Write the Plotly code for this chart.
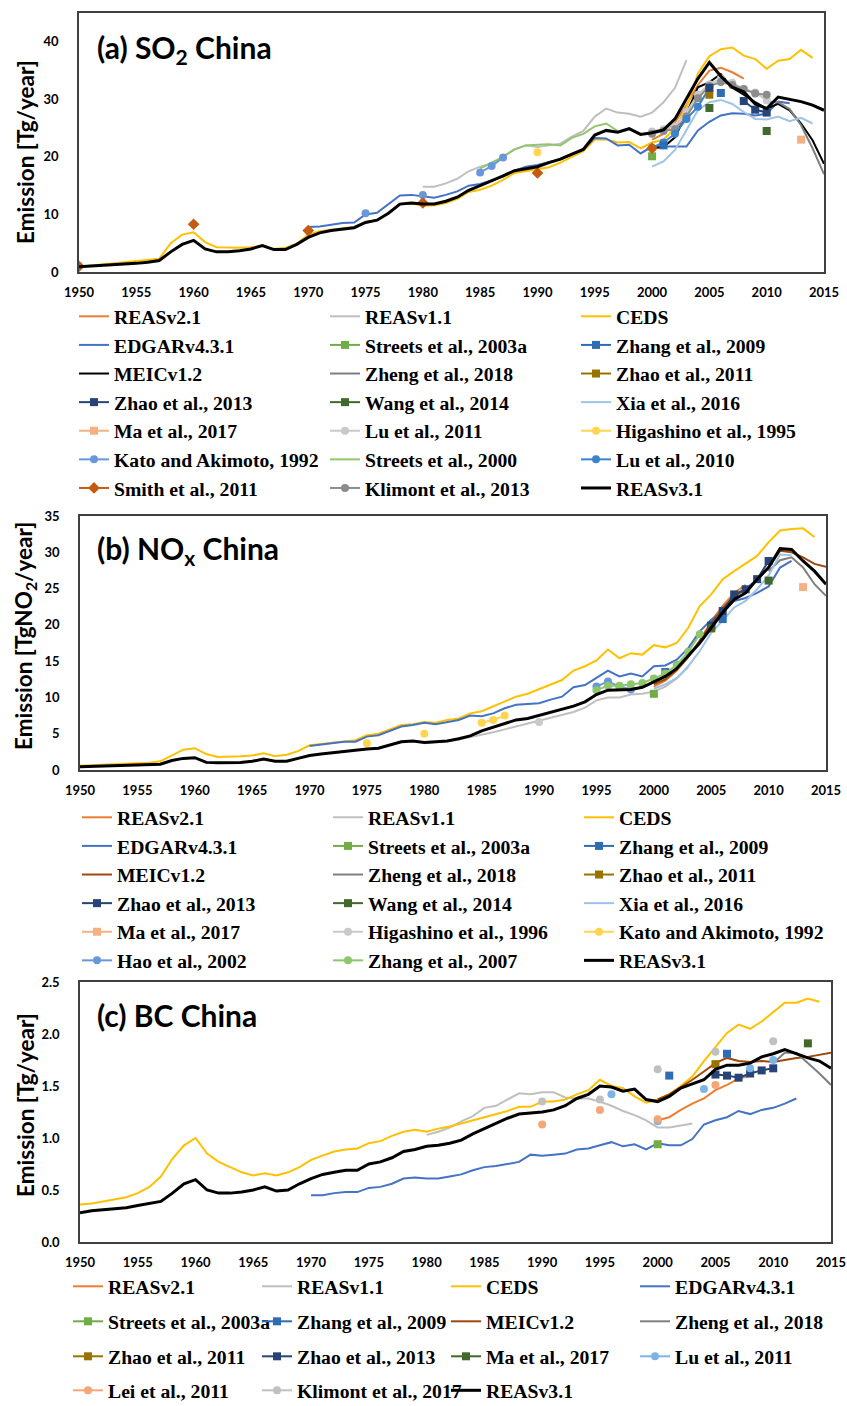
import plotly.graph_objects as go

W, H = 847, 1406

# ======================= Panel (a) SO2 China =======================
A_REAS31_YEARS = list(range(1950, 2016))
A_REAS31 = [0.9, 1.0, 1.1, 1.2, 1.4, 1.5, 1.7, 2.0, 3.5, 4.8,
            5.5, 4.0, 3.5, 3.5, 3.7, 4.0, 4.6, 3.9, 3.9, 4.8,
            6.0, 6.8, 7.2, 7.5, 7.7, 8.6, 9.0, 10.2, 11.8, 12.0,
            11.8, 11.8, 12.3, 13.0, 14.2, 15.0, 15.8, 16.7, 17.6, 18.0,
            18.3, 19.0, 19.6, 20.5, 21.3, 23.8, 24.6, 24.3, 24.9, 23.9,
            24.2, 24.7, 26.6, 30.1, 33.6, 36.4, 34.0, 32.1, 31.3, 29.2,
            28.4, 30.4, 30.0, 29.6, 29.0, 28.1]
A_CEDS_YEARS = list(range(1950, 2015))
A_CEDS = [0.9, 1.1, 1.3, 1.4, 1.6, 1.8, 2.0, 2.3, 5.0, 6.5,
          6.9, 5.2, 4.3, 4.2, 4.2, 4.3, 4.6, 4.0, 4.2, 4.9,
          6.5, 7.1, 7.4, 7.6, 7.8, 8.7, 9.0, 10.2, 11.8, 11.9,
          11.5, 11.6, 12.0, 12.7, 13.9, 14.3, 15.0, 16.0, 17.2, 17.5,
          17.8, 18.2, 19.0, 20.0, 21.0, 23.0, 23.0, 22.5, 22.6, 21.5,
          22.5, 23.0, 25.0, 28.5, 34.5, 37.5, 38.7, 39.0, 37.6, 37.0,
          35.3, 36.7, 37.0, 38.6, 37.2]
A_EDGAR_YEARS = list(range(1970, 2013))
A_EDGAR = [7.8, 7.9, 8.2, 8.5, 8.6, 10.0, 10.3, 11.8, 13.3, 13.4,
           13.2, 12.9, 13.4, 14.0, 15.0, 15.3, 15.9, 16.6, 17.6, 18.3,
           18.6, 19.1, 19.6, 20.4, 21.3, 23.3, 23.2, 22.0, 22.1, 20.6,
           21.8, 21.8, 21.8, 21.8, 24.6, 26.1, 27.2, 27.6, 27.5, 27.2,
           27.5, 29.6, 29.3]
A_REAS11_YEARS = list(range(1980, 2004))
A_REAS11 = [14.8, 14.8, 15.4, 16.2, 17.5, 18.3, 18.8, 20.0, 21.3, 22.0,
            21.7, 22.0, 22.3, 23.5, 24.5, 27.0, 28.4, 27.7, 27.5, 27.0,
            27.7, 29.5, 32.0, 36.8]
A_REAS21_YEARS = list(range(2000, 2009))
A_REAS21 = [23.0, 24.0, 26.0, 29.0, 32.5, 35.0, 35.5, 34.7, 33.6]
A_MEIC_YEARS = list(range(2000, 2016))
A_MEIC = [21.5, 21.7, 23.4, 27.5, 32.1, 33.0, 34.4, 32.0, 30.8, 29.5,
          28.4, 29.2, 28.1, 25.8, 22.9, 18.8]
A_ZHENG_YEARS = list(range(2010, 2016))
A_ZHENG = [29.5, 29.5, 28.3, 25.5, 21.5, 17.0]
A_XIA_YEARS = list(range(2000, 2015))
A_XIA = [18.3, 19.2, 21.2, 24.6, 28.1, 29.5, 29.9, 29.2, 27.8, 26.6,
         26.5, 27.0, 26.2, 26.8, 25.8]
A_STREETS2000_YEARS = list(range(1985, 1998))
A_STREETS2000 = [18.0, 19.0, 20.0, 21.3, 22.0, 22.1, 22.2, 22.0, 23.3, 24.0,
                 25.3, 25.8, 24.5]
A_STREETS2003_YEARS = [2000]
A_STREETS2003 = [20.1]
A_ZHANG2009_YEARS = [2001, 2006]
A_ZHANG2009 = [22.0, 31.1]
A_ZHAO2011_YEARS = [2005]
A_ZHAO2011 = [30.8]
A_ZHAO2013_YEARS = [2005, 2008, 2009, 2010]
A_ZHAO2013 = [32.0, 29.7, 28.2, 27.7]
A_WANG2014_YEARS = [2005, 2010]
A_WANG2014 = [28.5, 24.5]
A_MA2017_YEARS = [2013]
A_MA2017 = [23.0]
A_LU2011_YEARS = list(range(2000, 2011))
A_LU2011 = [24.4, 24.8, 25.3, 27.8, 30.8, 32.6, 33.6, 32.9, 31.8, 31.2, 29.8]
A_HIGASHINO_YEARS = [1990]
A_HIGASHINO = [20.8]
A_KATO_YEARS = [1975, 1980, 1985, 1986, 1987]
A_KATO = [10.2, 13.4, 17.3, 18.4, 19.9]
A_LU2010_YEARS = list(range(2000, 2006))
A_LU2010 = [21.6, 22.5, 24.0, 26.6, 28.7, 32.0]
A_SMITH_YEARS = [1950, 1960, 1970, 1980, 1990, 2000]
A_SMITH = [1.0, 8.3, 7.2, 12.0, 17.2, 21.5]
A_KLIMONT_YEARS = list(range(2000, 2011))
A_KLIMONT = [24.0, 24.5, 24.8, 27.0, 30.2, 32.3, 33.0, 32.5, 31.8, 31.0, 30.8]

# ======================= Panel (b) NOx China =======================
B_REAS31_YEARS = list(range(1950, 2016))
B_REAS31 = [0.45, 0.5, 0.55, 0.6, 0.62, 0.65, 0.7, 0.8, 1.3, 1.6,
            1.7, 1.05, 1.0, 1.0, 1.05, 1.2, 1.5, 1.2, 1.2, 1.6,
            2.0, 2.2, 2.4, 2.55, 2.7, 2.9, 3.0, 3.4, 3.9, 4.0,
            3.8, 3.9, 4.0, 4.3, 4.7, 5.4, 5.9, 6.3, 6.9, 7.1,
            7.5, 7.9, 8.3, 8.8, 9.4, 10.4, 11.0, 11.0, 11.1, 11.4,
            12.2, 12.9, 14.0, 15.7, 17.5, 19.6, 21.7, 23.5, 24.4, 26.3,
            27.9, 30.5, 30.4, 28.8, 27.4, 25.6]
B_CEDS_YEARS = list(range(1950, 2015))
B_CEDS = [0.6, 0.65, 0.7, 0.75, 0.8, 0.9, 1.0, 1.2, 2.0, 2.8,
          3.0, 2.2, 1.8, 1.8, 1.9, 2.0, 2.3, 1.9, 2.1, 2.6,
          3.4, 3.6, 3.8, 4.0, 4.1, 4.8, 5.0, 5.6, 6.2, 6.3,
          6.6, 6.5, 6.9, 7.1, 7.8, 8.1, 8.8, 9.4, 10.1, 10.5,
          11.1, 11.7, 12.4, 13.7, 14.3, 15.1, 16.6, 15.4, 16.1, 15.9,
          17.2, 16.9, 17.5, 19.6, 22.6, 24.2, 26.3, 27.4, 28.5, 29.5,
          31.4, 33.0, 33.2, 33.3, 32.1]
B_EDGAR_YEARS = list(range(1970, 2013))
B_EDGAR = [3.3, 3.5, 3.7, 3.9, 3.9, 4.6, 4.8, 5.4, 6.0, 6.2,
           6.5, 6.3, 6.6, 6.9, 7.5, 7.4, 7.8, 8.5, 9.0, 9.1,
           9.2, 9.7, 10.1, 11.4, 11.7, 12.7, 13.7, 12.9, 13.3, 12.9,
           14.3, 14.4, 15.2, 16.8, 19.1, 20.7, 21.9, 23.3, 23.7, 24.4,
           25.3, 27.9, 28.8]
B_REAS11_YEARS = list(range(1980, 2004))
B_REAS11 = [3.7, 3.8, 4.0, 4.2, 4.5, 4.9, 5.2, 5.6, 6.0, 6.3,
            6.7, 7.1, 7.5, 8.0, 8.6, 9.6, 10.0, 10.0, 10.4, 10.5,
            10.8, 11.5, 12.6, 14.2]
B_REAS21_YEARS = list(range(2000, 2009))
B_REAS21 = [11.5, 12.3, 13.7, 15.6, 17.8, 20.5, 22.6, 24.4, 25.5]
B_MEIC_YEARS = list(range(2000, 2016))
B_MEIC = [11.8, 12.5, 13.8, 15.6, 17.8, 20.2, 22.3, 23.9, 24.9, 26.1,
          28.0, 30.2, 30.0, 29.3, 28.4, 28.0]
B_ZHENG_YEARS = list(range(2010, 2016))
B_ZHENG = [27.4, 28.9, 29.3, 27.9, 25.6, 24.0]
B_XIA_YEARS = list(range(2000, 2013))
B_XIA = [11.2, 11.8, 12.7, 14.3, 16.4, 18.9, 20.6, 22.4, 23.3, 24.9,
         26.8, 29.7, 29.6]
B_STREETS2003_YEARS = [2000]
B_STREETS2003 = [10.5]
B_ZHANG2009_YEARS = [2001, 2006]
B_ZHANG2009 = [13.5, 20.8]
B_ZHAO2011_YEARS = [2005]
B_ZHAO2011 = [19.5]
B_ZHAO2013_YEARS = list(range(2005, 2011))
B_ZHAO2013 = [19.9, 21.9, 24.2, 24.9, 26.3, 28.8]
B_WANG2014_YEARS = [2005, 2010]
B_WANG2014 = [19.6, 26.1]
B_MA2017_YEARS = [2013]
B_MA2017 = [25.2]
B_HIGASHINO_YEARS = [1990]
B_HIGASHINO = [6.6]
B_KATO_YEARS = [1975, 1980, 1985, 1986, 1987]
B_KATO = [3.7, 5.0, 6.5, 6.9, 7.5]
B_HAO_YEARS = [1995, 1996, 1997, 1998]
B_HAO = [11.5, 12.2, 11.5, 11.1]
B_ZHANG2007_YEARS = list(range(1995, 2005))
B_ZHANG2007 = [11.0, 11.6, 11.6, 11.8, 12.0, 12.6, 13.3, 14.5, 16.3, 18.7]

# ======================= Panel (c) BC China =======================
C_REAS31_YEARS = list(range(1950, 2016))
C_REAS31 = [0.28, 0.30, 0.31, 0.32, 0.33, 0.35, 0.37, 0.39, 0.47, 0.56,
            0.60, 0.50, 0.47, 0.47, 0.48, 0.50, 0.53, 0.49, 0.50, 0.56,
            0.61, 0.65, 0.67, 0.69, 0.69, 0.75, 0.77, 0.81, 0.87, 0.89,
            0.92, 0.93, 0.95, 0.98, 1.04, 1.09, 1.14, 1.19, 1.23, 1.24,
            1.25, 1.27, 1.31, 1.38, 1.42, 1.50, 1.49, 1.45, 1.47, 1.37,
            1.35, 1.40, 1.48, 1.52, 1.56, 1.66, 1.70, 1.70, 1.72, 1.78,
            1.81, 1.85, 1.81, 1.77, 1.74, 1.67]
C_CEDS_YEARS = list(range(1950, 2015))
C_CEDS = [0.36, 0.37, 0.39, 0.41, 0.43, 0.47, 0.53, 0.63, 0.80, 0.93,
          1.00, 0.85, 0.77, 0.72, 0.67, 0.64, 0.66, 0.64, 0.67, 0.72,
          0.79, 0.83, 0.87, 0.89, 0.90, 0.95, 0.97, 1.02, 1.06, 1.08,
          1.06, 1.09, 1.11, 1.14, 1.17, 1.20, 1.23, 1.26, 1.30, 1.30,
          1.35, 1.35, 1.37, 1.42, 1.46, 1.56, 1.50, 1.48, 1.40, 1.34,
          1.37, 1.42, 1.50, 1.59, 1.74, 1.88, 2.01, 2.09, 2.05, 2.12,
          2.21, 2.30, 2.30, 2.34, 2.31]
C_EDGAR_YEARS = list(range(1970, 2013))
C_EDGAR = [0.45, 0.45, 0.47, 0.48, 0.48, 0.52, 0.53, 0.56, 0.61, 0.62,
           0.61, 0.61, 0.63, 0.65, 0.69, 0.72, 0.73, 0.75, 0.77, 0.84,
           0.83, 0.84, 0.85, 0.89, 0.90, 0.93, 0.96, 0.92, 0.94, 0.89,
           0.95, 0.93, 0.93, 0.99, 1.13, 1.17, 1.20, 1.26, 1.23, 1.27,
           1.29, 1.33, 1.38]
C_REAS11_YEARS = list(range(1980, 2004))
C_REAS11 = [1.03, 1.06, 1.10, 1.16, 1.21, 1.29, 1.31, 1.37, 1.43, 1.42,
            1.44, 1.44, 1.39, 1.38, 1.38, 1.35, 1.31, 1.26, 1.22, 1.17,
            1.10, 1.10, 1.12, 1.14]
C_REAS21_YEARS = list(range(2000, 2009))
C_REAS21 = [1.17, 1.20, 1.27, 1.33, 1.38, 1.46, 1.51, 1.57, 1.60]
C_MEIC_YEARS = list(range(2000, 2016))
C_MEIC = [1.37, 1.42, 1.49, 1.56, 1.64, 1.72, 1.77, 1.74, 1.73, 1.74,
          1.73, 1.75, 1.77, 1.78, 1.80, 1.82]
C_ZHENG_YEARS = list(range(2010, 2016))
C_ZHENG = [1.72, 1.82, 1.82, 1.72, 1.62, 1.51]
C_STREETS2003_YEARS = [2000]
C_STREETS2003 = [0.94]
C_ZHANG2009_YEARS = [2001, 2006]
C_ZHANG2009 = [1.60, 1.81]
C_ZHAO2011_YEARS = [2005]
C_ZHAO2011 = [1.71]
C_ZHAO2013_YEARS = list(range(2005, 2011))
C_ZHAO2013 = [1.61, 1.60, 1.58, 1.62, 1.65, 1.67]
C_MA2017_YEARS = [2013]
C_MA2017 = [1.91]
C_LU2011_YEARS = [1996, 2000, 2004, 2008, 2010]
C_LU2011 = [1.42, 1.16, 1.47, 1.67, 1.75]
C_LEI_YEARS = [1990, 1995, 2000, 2005]
C_LEI = [1.13, 1.27, 1.18, 1.51]
C_KLIMONT_YEARS = [1990, 1995, 2000, 2005, 2010]
C_KLIMONT = [1.35, 1.37, 1.66, 1.83, 1.93]

# ------------------------------------------------------------------
COL = dict(reas21='#ED7D31', reas11='#BFBFBF', ceds='#FFC000', edgar='#4472C4',
           streets03='#70AD47', zhang09='#2E6DB4', meic_a='#000000', meic='#9E480E',
           zheng='#7F7F7F', zhao11='#997300', zhao13='#264478', wang14='#43682B',
           xia='#9DC3E6', ma='#F4B183', lu11_a='#C9C9C9', lu11_c='#7EB3E6',
           higa95='#FFD54F', higa96='#C9C9C9', kato_a='#6A96DC', kato_b='#FFD54F',
           streets00='#92C66C', lu10='#3B82CF', smith='#C55A11', klim13='#8C8C8C',
           klim17='#C0C0C0', hao='#6A96DC', zhang07='#8CC76B', lei='#F4A676',
           reas31='#000000')


def with_gaps(years, values):
    xs, ys, prev = [], [], None
    for yr, v in zip(years, values):
        if prev is not None and yr - prev > 1:
            xs.append(None)
            ys.append(None)
        xs.append(yr)
        ys.append(v)
        prev = yr
    return xs, ys


fig = go.Figure()


def add(panel, legend, rank, name, years, values, color, symbol=None, width=2.0, size=8):
    xs, ys = with_gaps(years, values)
    ax = {'a': ('x', 'y'), 'b': ('x2', 'y2'), 'c': ('x3', 'y3')}[panel]
    kw = dict(x=xs, y=ys, name=name, xaxis=ax[0], yaxis=ax[1], legend=legend,
              legendrank=rank, connectgaps=False, hoverinfo='skip',
              line=dict(color=color, width=width))
    if symbol:
        kw['mode'] = 'lines+markers'
        kw['marker'] = dict(symbol=symbol, size=size, color=color, line=dict(width=0))
    else:
        kw['mode'] = 'lines'
    fig.add_trace(go.Scatter(**kw))


# ---- panel a (draw order: lines, markers, REASv3.1) ----
LA = 'legend'
add('a', LA, 1, 'REASv2.1', A_REAS21_YEARS, A_REAS21, COL['reas21'])
add('a', LA, 2, 'REASv1.1', A_REAS11_YEARS, A_REAS11, COL['reas11'])
add('a', LA, 3, 'CEDS', A_CEDS_YEARS, A_CEDS, COL['ceds'])
add('a', LA, 4, 'EDGARv4.3.1', A_EDGAR_YEARS, A_EDGAR, COL['edgar'])
add('a', LA, 7, 'MEICv1.2', A_MEIC_YEARS, A_MEIC, COL['meic_a'])
add('a', LA, 8, 'Zheng et al., 2018', A_ZHENG_YEARS, A_ZHENG, COL['zheng'])
add('a', LA, 12, 'Xia et al., 2016', A_XIA_YEARS, A_XIA, COL['xia'])
add('a', LA, 17, 'Streets et al., 2000', A_STREETS2000_YEARS, A_STREETS2000, COL['streets00'])
add('a', LA, 14, 'Lu et al., 2011', A_LU2011_YEARS, A_LU2011, COL['lu11_a'], 'circle')
add('a', LA, 20, 'Klimont et al., 2013', A_KLIMONT_YEARS, A_KLIMONT, COL['klim13'], 'circle')
add('a', LA, 18, 'Lu et al., 2010', A_LU2010_YEARS, A_LU2010, COL['lu10'], 'circle')
add('a', LA, 5, 'Streets et al., 2003a', A_STREETS2003_YEARS, A_STREETS2003, COL['streets03'], 'square')
add('a', LA, 6, 'Zhang et al., 2009', A_ZHANG2009_YEARS, A_ZHANG2009, COL['zhang09'], 'square')
add('a', LA, 9, 'Zhao et al., 2011', A_ZHAO2011_YEARS, A_ZHAO2011, COL['zhao11'], 'square')
add('a', LA, 10, 'Zhao et al., 2013', A_ZHAO2013_YEARS, A_ZHAO2013, COL['zhao13'], 'square')
add('a', LA, 11, 'Wang et al., 2014', A_WANG2014_YEARS, A_WANG2014, COL['wang14'], 'square')
add('a', LA, 13, 'Ma et al., 2017', A_MA2017_YEARS, A_MA2017, COL['ma'], 'square')
add('a', LA, 15, 'Higashino et al., 1995', A_HIGASHINO_YEARS, A_HIGASHINO, COL['higa95'], 'circle')
add('a', LA, 16, 'Kato and Akimoto, 1992', A_KATO_YEARS, A_KATO, COL['kato_a'], 'circle')
add('a', LA, 19, 'Smith et al., 2011', A_SMITH_YEARS, A_SMITH, COL['smith'], 'diamond', size=9)
add('a', LA, 21, 'REASv3.1', A_REAS31_YEARS, A_REAS31, COL['reas31'], width=3.0)

# ---- panel b ----
LB = 'legend2'
add('b', LB, 1, 'REASv2.1', B_REAS21_YEARS, B_REAS21, COL['reas21'])
add('b', LB, 2, 'REASv1.1', B_REAS11_YEARS, B_REAS11, COL['reas11'])
add('b', LB, 3, 'CEDS', B_CEDS_YEARS, B_CEDS, COL['ceds'])
add('b', LB, 4, 'EDGARv4.3.1', B_EDGAR_YEARS, B_EDGAR, COL['edgar'])
add('b', LB, 7, 'MEICv1.2', B_MEIC_YEARS, B_MEIC, COL['meic'])
add('b', LB, 8, 'Zheng et al., 2018', B_ZHENG_YEARS, B_ZHENG, COL['zheng'])
add('b', LB, 12, 'Xia et al., 2016', B_XIA_YEARS, B_XIA, COL['xia'])
add('b', LB, 5, 'Streets et al., 2003a', B_STREETS2003_YEARS, B_STREETS2003, COL['streets03'], 'square')
add('b', LB, 6, 'Zhang et al., 2009', B_ZHANG2009_YEARS, B_ZHANG2009, COL['zhang09'], 'square')
add('b', LB, 9, 'Zhao et al., 2011', B_ZHAO2011_YEARS, B_ZHAO2011, COL['zhao11'], 'square')
add('b', LB, 10, 'Zhao et al., 2013', B_ZHAO2013_YEARS, B_ZHAO2013, COL['zhao13'], 'square')
add('b', LB, 11, 'Wang et al., 2014', B_WANG2014_YEARS, B_WANG2014, COL['wang14'], 'square')
add('b', LB, 13, 'Ma et al., 2017', B_MA2017_YEARS, B_MA2017, COL['ma'], 'square')
add('b', LB, 14, 'Higashino et al., 1996', B_HIGASHINO_YEARS, B_HIGASHINO, COL['higa96'], 'circle')
add('b', LB, 15, 'Kato and Akimoto, 1992', B_KATO_YEARS, B_KATO, COL['kato_b'], 'circle')
add('b', LB, 16, 'Hao et al., 2002', B_HAO_YEARS, B_HAO, COL['hao'], 'circle')
add('b', LB, 17, 'Zhang et al., 2007', B_ZHANG2007_YEARS, B_ZHANG2007, COL['zhang07'], 'circle')
add('b', LB, 18, 'REASv3.1', B_REAS31_YEARS, B_REAS31, COL['reas31'], width=3.0)

# ---- panel c (one legend per row) ----
add('c', 'legend3', 1, 'REASv2.1', C_REAS21_YEARS, C_REAS21, COL['reas21'])
add('c', 'legend3', 2, 'REASv1.1', C_REAS11_YEARS, C_REAS11, COL['reas11'])
add('c', 'legend3', 3, 'CEDS', C_CEDS_YEARS, C_CEDS, COL['ceds'])
add('c', 'legend3', 4, 'EDGARv4.3.1', C_EDGAR_YEARS, C_EDGAR, COL['edgar'])
add('c', 'legend4', 7, 'MEICv1.2', C_MEIC_YEARS, C_MEIC, COL['meic'])
add('c', 'legend4', 8, 'Zheng et al., 2018', C_ZHENG_YEARS, C_ZHENG, COL['zheng'])
add('c', 'legend4', 5, 'Streets et al., 2003a', C_STREETS2003_YEARS, C_STREETS2003, COL['streets03'], 'square')
add('c', 'legend4', 6, 'Zhang et al., 2009', C_ZHANG2009_YEARS, C_ZHANG2009, COL['zhang09'], 'square')
add('c', 'legend5', 9, 'Zhao et al., 2011', C_ZHAO2011_YEARS, C_ZHAO2011, COL['zhao11'], 'square')
add('c', 'legend5', 10, 'Zhao et al., 2013', C_ZHAO2013_YEARS, C_ZHAO2013, COL['zhao13'], 'square')
add('c', 'legend5', 11, 'Ma et al., 2017', C_MA2017_YEARS, C_MA2017, COL['wang14'], 'square')
add('c', 'legend5', 12, 'Lu et al., 2011', C_LU2011_YEARS, C_LU2011, COL['lu11_c'], 'circle')
add('c', 'legend6', 13, 'Lei et al., 2011', C_LEI_YEARS, C_LEI, COL['lei'], 'circle')
add('c', 'legend6', 14, 'Klimont et al., 2017', C_KLIMONT_YEARS, C_KLIMONT, COL['klim17'], 'circle')
add('c', 'legend6', 15, 'REASv3.1', C_REAS31_YEARS, C_REAS31, COL['reas31'], width=3.0)

# ------------------------------------------------------------------
TICKFONT = dict(family='Lato', size=13, color='#000000', weight='bold')
LEGFONT = dict(family='Liberation Serif', size=19.7, color='#000000', weight='bold')
LINEC = '#404040'


def xax(l, r, anchor):
    return dict(domain=[l / W, r / W], range=[1950, 2015], tick0=1950, dtick=5,
                anchor=anchor, showline=True, mirror=True, linecolor=LINEC, linewidth=1.5,
                showgrid=False, zeroline=False, ticks='', ticklabelstandoff=8,
                tickfont=TICKFONT, fixedrange=True)


def yax(t, b, rng, dtick, anchor, fmt=None):
    d = dict(domain=[1 - b / H, 1 - t / H], range=rng, dtick=dtick, tick0=0,
             anchor=anchor, showline=True, mirror=True, linecolor=LINEC, linewidth=1.5,
             showgrid=False, zeroline=False, ticks='', ticklabelstandoff=16,
             tickfont=TICKFONT, fixedrange=True)
    if fmt:
        d['tickformat'] = fmt
    return d


def leg(x_px, top_px, ew):
    return dict(orientation='h', x=x_px / W, y=1 - top_px / H, xanchor='left', yanchor='top',
                entrywidth=ew, entrywidthmode='pixels', font=LEGFONT,
                bgcolor='rgba(0,0,0,0)', borderwidth=0, itemclick=False, itemdoubleclick=False)


ann = []
TITLEFONT = dict(family='Lato', size=30, color='#000000', weight='bold')
YTFONT = dict(family='Lato', size=22.5, color='#000000', weight='bold')
for txt, ypx in [('(a) SO<sub>2</sub> China', 49), ('(b) NO<sub>x</sub> China', 550),
                 ('(c) BC China', 1015)]:
    ann.append(dict(text=txt, x=95 / W, y=1 - ypx / H, xref='paper', yref='paper',
                    xanchor='left', yanchor='middle', showarrow=False, font=TITLEFONT))
for txt, ypx in [('Emission [Tg/year]', 152), ('Emission [TgNO<sub>2</sub>/year]', 636),
                 ('Emission [Tg/year]', 1105)]:
    ann.append(dict(text=txt, x=25 / W, y=1 - ypx / H, xref='paper', yref='paper',
                    xanchor='center', yanchor='middle', textangle=-90, showarrow=False,
                    font=YTFONT))

fig.update_layout(
    width=W, height=H, margin=dict(l=0, r=0, t=0, b=0, autoexpand=False),
    paper_bgcolor='white', plot_bgcolor='white', showlegend=True,
    xaxis=xax(79, 824, 'y'), yaxis=yax(13, 272, [0, 45], 10, 'x'),
    xaxis2=xax(80, 826, 'y2'), yaxis2=yax(516, 770, [0, 35], 5, 'x2'),
    xaxis3=xax(80, 831, 'y3'), yaxis3=yax(982, 1242, [0, 2.5], 0.5, 'x3', '.1f'),
    legend=leg(74, 297, 206),
    legend2=leg(77, 798, 206),
    legend3=leg(68, 1267, 144),
    legend4=leg(68, 1302, 144),
    legend5=leg(68, 1337, 144),
    legend6=leg(68, 1371, 144),
    annotations=ann,
    hovermode=False,
)

fig.write_html('out.html', config={'displayModeBar': False, 'staticPlot': False},
               post_script="document.body.style.margin='0px';document.body.style.overflow='hidden';")
